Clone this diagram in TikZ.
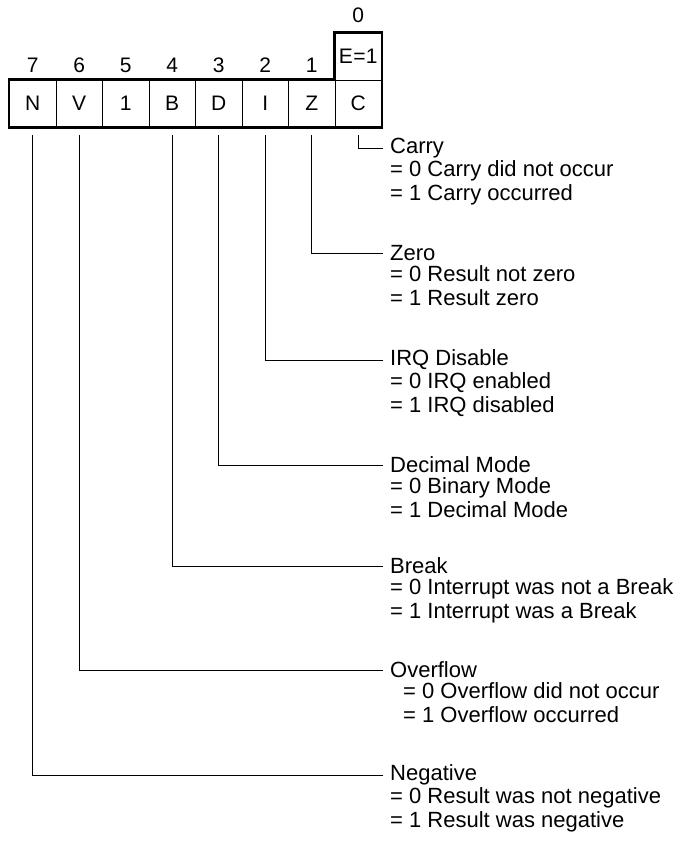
\documentclass[tikz,border=0pt]{standalone}
\usepackage{fontspec}
\setmainfont{Liberation Sans}
\begin{document}
\begin{tikzpicture}[x=1pt,y=-1pt,
  cell/.style={draw,line width=0.8pt,minimum width=46.5pt,minimum height=47pt,inner sep=0pt,font=\fontsize{21}{21}\selectfont},
  bitno/.style={inner sep=0pt,font=\fontsize{21}{21}\selectfont},
  ttl/.style={anchor=west,inner sep=0pt,font=\fontsize{22}{23.5}\selectfont},
  desc/.style={anchor=north west,inner sep=0pt,align=left,font=\fontsize{22}{23.5}\selectfont},
  thick outline/.style={line width=2.6pt,line join=miter},
  conn/.style={line width=0.9pt}]
\useasboundingbox (0,0) rectangle (675,842);
% register cells
\foreach \n/\t [count=\i from 0] in {cN/N,cV/V,c5/1,cB/B,cD/D,cI/I,cZ/Z,cC/C}{
  \node[cell] (\n) at ({9.5+23.25+46.5*\i},103.5) {\t};
}
\node[cell] (cE) at ({9.5+23.25+46.5*7},56.5) {E\kern0.3pt=\kern0.3pt1};
% bit numbers
\foreach \n/\t in {cN/7,cV/6,c5/5,cB/4,cD/3,cI/2,cZ/1}{
  \node[bitno] at ([yshift=14pt]\n.north) {\t};
}
\node[bitno] (b0) at ([yshift=17pt]cE.north) {0};
% thick outline
\draw[thick outline] (cN.south west) -- (cN.north west) -- (cC.north west) -- (cE.north west) -- (cE.north east) -- (cC.south east) -- cycle;
% labels
\node[ttl] (tC) at (390,148) {Carry};
\node[desc] (dC) at ([yshift=-12.5pt]tC.west) {= 0 Carry did not occur\\= 1 Carry occurred};
\node[ttl] (tZ) at (390,253) {Zero};
\node[desc] (dZ) at ([yshift=-12.5pt]tZ.west) {= 0 Result not zero\\= 1 Result zero};
\node[ttl] (tI) at (390,360) {IRQ Disable};
\node[desc] (dI) at ([yshift=-12.5pt]tI.west) {= 0 IRQ enabled\\= 1 IRQ disabled};
\node[ttl] (tD) at (390,465) {Decimal Mode};
\node[desc] (dD) at ([yshift=-12.5pt]tD.west) {= 0 Binary Mode\\= 1 Decimal Mode};
\node[ttl] (tB) at (390,566) {Break};
\node[desc] (dB) at ([yshift=-12.5pt]tB.west) {= 0 Interrupt was not a Break\\= 1 Interrupt was a Break};
\node[ttl] (tV) at (390,670) {Overflow};
\node[desc] (dV) at ([xshift=13pt,yshift=-12.5pt]tV.west) {= 0 Overflow did not occur\\= 1 Overflow occurred};
\node[ttl] (tN) at (390,775) {Negative};
\node[desc] (dN) at ([yshift=-12.5pt]tN.west) {= 0 Result was not negative\\= 1 Result was negative};
% connectors
\foreach \c/\t in {cC/tC,cZ/tZ,cI/tI,cD/tD,cB/tB,cV/tV,cN/tN}{
  \draw[conn] ([yshift=-8pt]\c.south) |- ([xshift=-7pt]\t.west);
}
\end{tikzpicture}
\end{document}
